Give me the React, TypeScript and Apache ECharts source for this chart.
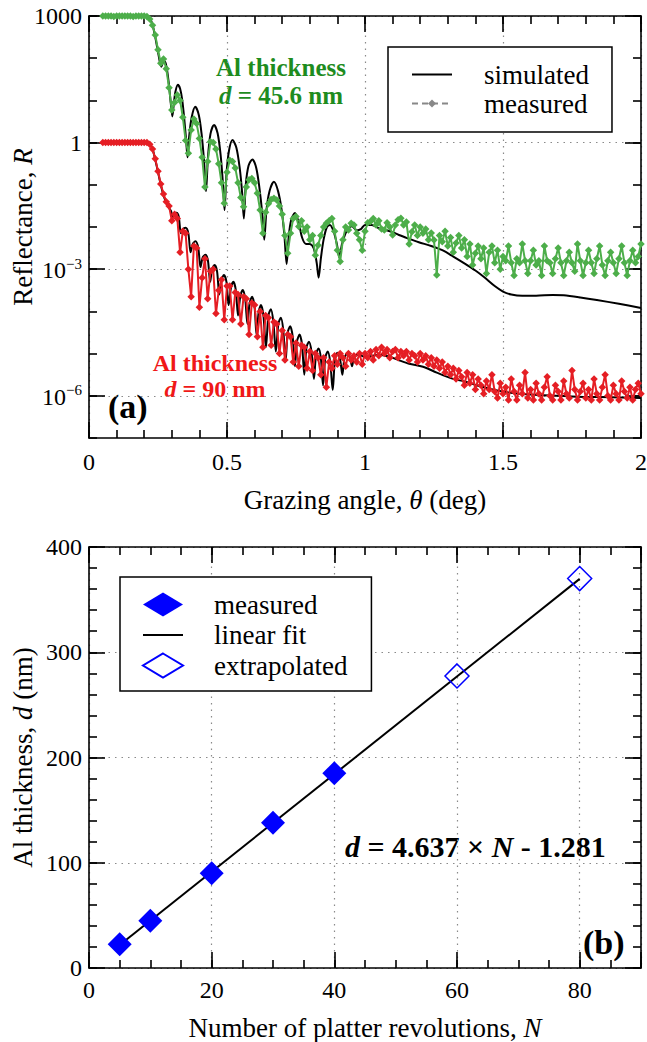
import React, { useEffect, useRef } from "react";
import * as echarts from "echarts";

const FONT = '"Liberation Serif", "Times New Roman", serif';

// ---------------- Panel (a): X-ray reflectivity ----------------
// measured scans are sampled on a uniform grazing-angle grid (deg)
const THETA_START = 0.05;
const THETA_STEP = 0.01;

// log10(R) of the measured 45.6 nm film (plotted x1000), rows of 10 samples
const greenMeasuredLog = [
  3, 3, 3, 3, 2.99, 3, 3, 3, 3, 3, // 0.05
  3, 2.99, 3, 3, 3, 3, 2.99, 2.93, 2.78, 2.55, // 0.15
  2.2, 1.88, 1.98, 1.75, 1.3, 0.77, 0.95, 1.13, 1.0, 0.6, // 0.25
  0.05, -0.25, 0.3, 0.56, 0.45, 0.1, -0.35, -1.05, -0.45, 0.02, // 0.35
  0.0, -0.15, -0.5, -0.95, -1.44, -0.7, -0.42, -0.45, -0.6, -0.95, // 0.45
  -1.3, -1.52, -1.05, -0.88, -0.85, -0.95, -1.2, -1.6, -2.15, -1.65, // 0.55
  -1.45, -1.35, -1.32, -1.36, -1.5, -1.7, -2.2, -2.62, -2.15, -1.8, // 0.65
  -1.75, -1.99, -1.85, -2.1, -2.0, -2.3, -2.2, -2.67, -2.43, -2.2, // 0.75
  -2.0, -1.91, -1.85, -1.8, -2.1, -2.55, -2.82, -2.3, -2.0, -2.07, // 0.85
  -1.91, -1.95, -2.15, -2.3, -2.55, -2.1, -1.9, -1.87, -1.8, -1.95, // 0.95
  -1.85, -2.05, -2.07, -1.9, -2.0, -2.19, -1.95, -1.83, -1.79, -1.95, // 1.05
  -1.88, -2.4, -2.11, -1.95, -2.2, -2.0, -2.15, -2.05, -2.3, -2.14, // 1.15
  -2.31, -3.14, -2.2, -2.35, -2.1, -2.45, -2.25, -2.6, -2.38, -2.2, // 1.25
  -2.5, -2.3, -2.7, -2.4, -2.9, -2.62, -2.45, -2.75, -2.5, -3.1, // 1.35
  -2.6, -2.45, -2.85, -2.55, -3.0, -2.7, -2.8, -2.45, -2.85, -3.15, // 1.45
  -2.75, -2.85, -2.4, -2.8, -3.1, -2.8, -2.55, -2.9, -2.8, -3.15, // 1.55
  -2.45, -2.8, -2.85, -3.1, -2.75, -2.5, -2.85, -3.15, -2.8, -2.6, // 1.65
  -2.85, -3.05, -2.4, -2.8, -3.15, -2.85, -2.55, -2.85, -3.1, -2.75, // 1.75
  -2.45, -2.9, -3.15, -2.8, -2.6, -2.85, -3.1, -2.75, -2.45, -2.85, // 1.85
  -3.15, -2.8, -2.55, -2.85, -2.7, -2.4, // 1.95
];

// log10(R) of the measured 90 nm film
const redMeasuredLog = [
  0, 0, 0, 0, 0, 0, 0, 0, 0, 0, // 0.05
  0, 0, 0, 0, 0, 0, 0, -0.04, -0.15, -0.38, // 0.15
  -0.68, -0.98, -1.22, -1.4, -1.5, -1.85, -1.7, -1.8, -2.6, -2.1, // 0.25
  -2.15, -3.0, -3.65, -2.45, -2.5, -3.9, -3.2, -2.75, -3.7, -3.05, // 0.35
  -3.0, -4.05, -3.5, -3.25, -4.2, -3.4, -3.4, -4.2, -3.55, -3.6, // 0.45
  -4.3, -3.65, -3.7, -4.55, -3.8, -3.85, -4.6, -4.0, -4.85, -4.1, // 0.55
  -4.15, -4.8, -4.25, -4.3, -5.0, -4.45, -5.15, -4.55, -4.6, -5.2, // 0.65
  -4.75, -5.3, -4.8, -4.85, -5.35, -4.95, -5.4, -5.0, -5.1, -5.5, // 0.75
  -5.1, -5.8, -5.2, -5.35, -5.05, -5.25, -5.0, -5.1, -5.3, -5.0, // 0.85
  -5.15, -5.05, -5.2, -5.0, -5.25, -5.0, -5.1, -4.95, -5.15, -4.9, // 0.95
  -5.05, -4.85, -5.0, -4.9, -5.1, -4.95, -4.9, -5.1, -4.95, -5.05, // 1.05
  -4.95, -5.15, -5.0, -5.05, -5.2, -5.0, -5.15, -5.05, -5.25, -5.1, // 1.15
  -5.3, -5.15, -5.35, -5.2, -5.45, -5.3, -5.5, -5.35, -5.6, -5.4, // 1.25
  -5.55, -5.75, -5.45, -5.7, -5.5, -5.85, -5.6, -5.75, -5.95, -5.65, // 1.35
  -5.85, -5.5, -5.9, -6.05, -5.7, -5.95, -5.8, -6.1, -5.6, -5.9, // 1.45
  -6.1, -5.75, -5.95, -5.45, -6.05, -5.85, -6.1, -5.7, -5.95, -6.1, // 1.55
  -5.8, -5.55, -6.0, -6.1, -5.75, -5.9, -6.1, -5.65, -5.95, -6.05, // 1.65
  -5.4, -5.85, -6.1, -5.9, -5.7, -6.05, -5.85, -6.1, -5.6, -5.95, // 1.75
  -6.1, -5.8, -5.5, -6.0, -6.1, -5.75, -5.95, -6.1, -5.65, -5.9, // 1.85
  -6.05, -5.8, -6.1, -5.85, -5.7, -5.95, // 1.95
];

// simulated curves: [theta (deg), log10(R)]
const greenSimulated = [
  [0.05, 3], [0.21, 3], [0.22, 2.96], [0.23, 2.8], [0.24, 2.5], [0.25, 2.15], [0.257, 1.9], [0.262, 1.8],
  [0.268, 1.9], [0.275, 1.92], [0.282, 1.75], [0.29, 1.35], [0.296, 0.95], [0.302, 0.62], [0.307, 0.9],
  [0.313, 1.2], [0.322, 1.37], [0.33, 1.28], [0.338, 1.0], [0.346, 0.5], [0.352, 0.05], [0.357, -0.35],
  [0.363, 0.15], [0.372, 0.6], [0.385, 0.85], [0.398, 0.65], [0.408, 0.2], [0.417, -0.45], [0.424, -1.15],
  [0.431, -0.35], [0.44, 0.2], [0.453, 0.42], [0.466, 0.22], [0.477, -0.3], [0.485, -0.95], [0.491, -1.6],
  [0.498, -0.75], [0.507, -0.2], [0.52, 0.06], [0.534, -0.12], [0.546, -0.6], [0.555, -1.2], [0.561, -1.8],
  [0.568, -1.0], [0.578, -0.55], [0.592, -0.4], [0.606, -0.6], [0.618, -1.1], [0.628, -1.7], [0.635, -2.3],
  [0.643, -1.6], [0.654, -1.15], [0.67, -0.93], [0.685, -1.15], [0.698, -1.6], [0.708, -2.2], [0.716, -2.88],
  [0.724, -2.2], [0.733, -1.82], [0.746, -1.67], [0.76, -1.9], [0.772, -2.25], [0.786, -2.4], [0.8, -2.4],
  [0.814, -2.5], [0.825, -2.85], [0.832, -3.2], [0.84, -2.75], [0.85, -2.3], [0.862, -2.0], [0.873, -1.95],
  [0.886, -2.1], [0.898, -2.4], [0.907, -2.72], [0.917, -2.4], [0.933, -2.1], [0.953, -1.98], [0.97, -2.08],
  [0.985, -2.05], [1.0, -1.95], [1.025, -1.95], [1.05, -2.03], [1.075, -2.07], [1.1, -2.12], [1.123, -2.19],
  [1.16, -2.28], [1.195, -2.36], [1.24, -2.45], [1.28, -2.55], [1.32, -2.7], [1.36, -2.86], [1.4, -3.03],
  [1.43, -3.18], [1.47, -3.4], [1.5, -3.53], [1.53, -3.6], [1.57, -3.63], [1.62, -3.63], [1.68, -3.61],
  [1.72, -3.62], [1.78, -3.67], [1.84, -3.73], [1.92, -3.82], [2.0, -3.92],
];

const redSimulated = [
  [0.05, 0], [0.21, 0], [0.22, -0.03], [0.23, -0.15], [0.24, -0.4], [0.25, -0.7], [0.26, -1.0], [0.27, -1.25],
  [0.28, -1.42], [0.29, -1.55], [0.297, -1.62], [0.303, -1.75], [0.31, -1.68], [0.317, -1.66], [0.325, -1.75],
  [0.333, -2.15], [0.34, -2.05], [0.35, -2.02], [0.36, -2.15], [0.368, -2.6], [0.376, -2.4], [0.386, -2.34],
  [0.396, -2.5], [0.404, -2.95], [0.412, -2.72], [0.422, -2.66], [0.431, -2.8], [0.439, -3.3], [0.446, -3.0],
  [0.455, -2.9], [0.464, -3.05], [0.472, -3.6], [0.48, -3.25], [0.489, -3.14], [0.498, -3.3], [0.506, -3.85],
  [0.514, -3.45], [0.523, -3.3], [0.532, -3.5], [0.54, -4.1], [0.548, -3.65], [0.557, -3.49], [0.566, -3.7],
  [0.574, -4.3], [0.582, -3.8], [0.591, -3.65], [0.6, -3.9], [0.607, -4.55], [0.615, -4.0], [0.623, -3.85],
  [0.632, -4.1], [0.641, -4.85], [0.65, -4.1], [0.659, -3.95], [0.668, -4.25], [0.677, -4.95], [0.686, -4.3],
  [0.695, -4.15], [0.704, -4.45], [0.712, -5.2], [0.72, -4.5], [0.729, -4.35], [0.738, -4.6], [0.746, -5.3],
  [0.754, -4.7], [0.763, -4.55], [0.772, -4.8], [0.78, -5.5], [0.788, -4.85], [0.797, -4.72], [0.806, -4.95],
  [0.815, -5.6], [0.823, -5.0], [0.832, -4.88], [0.84, -5.1], [0.848, -5.75], [0.856, -5.1], [0.865, -4.95],
  [0.874, -5.2], [0.883, -5.86], [0.891, -5.15], [0.9, -4.98], [0.91, -5.15], [0.918, -5.5], [0.926, -5.1],
  [0.937, -4.98], [0.946, -5.1], [0.953, -5.3], [0.96, -5.1], [0.975, -5.02], [1.0, -5.08], [1.05, -5.03],
  [1.087, -5.07], [1.12, -5.15], [1.16, -5.24], [1.21, -5.31], [1.26, -5.45], [1.32, -5.6], [1.36, -5.66],
  [1.41, -5.76], [1.47, -5.86], [1.52, -5.92], [1.6, -5.97], [1.7, -6.0], [1.77, -6.02], [1.85, -6.03],
  [1.93, -6.04], [2.0, -6.05],
];

const yMajorLog = [-6, -3, 0, 3];

// ---------------- Panel (b): thickness vs revolutions ----------------
const measuredN = [5, 10, 20, 30, 40];
const measuredD = [22.5, 45, 90, 138, 185];
const extrapolatedN = [60, 80];
const extrapolatedD = [277.5, 370];
const fitN = [5, 80];
const fitD = [21.9, 369.7];

const GREEN = "#4dae4a";
const RED = "#e51e24";
const BLUE = "#0000ff";

const LEGEND_LABELS: Record<string, string> = {
  simulated: "simulated",
  measured: "measured",
  measuredB: "measured",
  "linear fit": "linear fit",
  extrapolated: "extrapolated",
};

const dotted = { color: "#8a8a8a", width: 1.2, type: [1.5, 5] };
const blackLine = { color: "#000", width: 1.6 };

function axisNameStyle() {
  return {
    fontFamily: FONT,
    fontSize: 27,
    color: "#000",
    rich: {
      i: { fontFamily: FONT, fontSize: 27, fontStyle: "italic", color: "#000" },
    },
  };
}

function makeAxis(o: any) {
  const base: any = {
    type: "value",
    axisLine: { show: false, onZero: false, lineStyle: blackLine },
    axisTick: { show: true, inside: true, length: 8, lineStyle: blackLine },
    axisLabel: { show: false },
    splitLine: { show: false },
    nameMoveOverlap: false,
  };
  return {
    ...base,
    ...o,
    axisLine: { ...base.axisLine, ...(o.axisLine || {}) },
    axisTick: { ...base.axisTick, ...(o.axisTick || {}) },
  };
}

function logLabel(v: number) {
  if (v === 3) return "1000";
  if (v === 0) return "1";
  if (v === -3) return "{b|10}{s|\u22123}";
  if (v === -6) return "{b|10}{s|\u22126}";
  return "";
}

const GRID_W = 552;

function buildOption() {
  const greenMeasured = greenMeasuredLog.map((v, i) => [+(THETA_START + i * THETA_STEP).toFixed(3), v]);
  const redMeasured = redMeasuredLog.map((v, i) => [+(THETA_START + i * THETA_STEP).toFixed(3), v]);

  const labelStyle = { fontFamily: FONT, fontSize: 24, color: "#000" };

  const xAxis = [
    // grid 0 (panel a)
    makeAxis({
      gridIndex: 0, position: "bottom", min: 0, max: 2, interval: 0.5,
      axisLine: { show: true }, axisTick: { length: 16 },
      axisLabel: { show: true, margin: 12, ...labelStyle, formatter: (v: number) => String(v) },
      splitLine: { show: true, lineStyle: dotted },
      name: "Grazing angle, {i|\u03b8} (deg)", nameLocation: "middle", nameGap: 48,
      nameTextStyle: axisNameStyle(),
    }),
    makeAxis({ gridIndex: 0, position: "bottom", min: 0, max: 2, interval: 0.1 }),
    makeAxis({ gridIndex: 0, position: "top", min: 0, max: 2, interval: 0.5, axisLine: { show: true }, axisTick: { length: 16 } }),
    makeAxis({ gridIndex: 0, position: "top", min: 0, max: 2, interval: 0.1 }),
    // grid 1 (panel b)
    makeAxis({
      gridIndex: 1, position: "bottom", min: 0, max: 90, interval: 20,
      axisLine: { show: true }, axisTick: { length: 16 },
      axisLabel: { show: true, margin: 10, ...labelStyle, formatter: (v: number) => (v > 85 ? "" : String(v)) },
      splitLine: { show: true, lineStyle: dotted },
      name: "Number of platter revolutions, {i|N}", nameLocation: "middle", nameGap: 46,
      nameTextStyle: axisNameStyle(),
    }),
    makeAxis({ gridIndex: 1, position: "bottom", min: 0, max: 90, interval: 5 }),
    makeAxis({ gridIndex: 1, position: "top", min: 0, max: 90, interval: 20, axisLine: { show: true }, axisTick: { length: 16 } }),
    makeAxis({ gridIndex: 1, position: "top", min: 0, max: 90, interval: 5 }),
  ];

  const yAxis = [
    // grid 0: data axis (one tick per decade) carrying labels
    makeAxis({
      gridIndex: 0, position: "left", min: -7, max: 3, interval: 1,
      axisLine: { show: true },
      axisLabel: {
        show: true, margin: 7, ...labelStyle, formatter: logLabel,
        rich: {
          b: { fontFamily: FONT, fontSize: 24, color: "#000", lineHeight: 26, verticalAlign: "bottom" },
          s: { fontFamily: FONT, fontSize: 15, color: "#000", lineHeight: 16, verticalAlign: "top" },
        },
      },
      name: "Reflectance, {i|R}", nameLocation: "middle", nameGap: 53,
      nameTextStyle: axisNameStyle(),
    }),
    // grid 0: major ticks + grid lines
    makeAxis({
      gridIndex: 0, position: "left", min: -7, max: 3,
      axisTick: { length: 16, customValues: yMajorLog },
      splitLine: { show: true, lineStyle: dotted },
    }),
    makeAxis({ gridIndex: 0, position: "right", min: -7, max: 3, interval: 1, axisLine: { show: true } }),
    makeAxis({ gridIndex: 0, position: "right", min: -7, max: 3, axisTick: { length: 16, customValues: yMajorLog } }),
    // grid 1
    makeAxis({
      gridIndex: 1, position: "left", min: 0, max: 400, interval: 100,
      axisLine: { show: true }, axisTick: { length: 16 },
      axisLabel: { show: true, margin: 7, ...labelStyle },
      splitLine: { show: true, lineStyle: dotted },
      name: "Al thickness, {i|d} (nm)", nameLocation: "middle", nameGap: 53,
      nameTextStyle: axisNameStyle(),
    }),
    makeAxis({ gridIndex: 1, position: "left", min: 0, max: 400, interval: 20 }),
    makeAxis({ gridIndex: 1, position: "right", min: 0, max: 400, interval: 100, axisLine: { show: true }, axisTick: { length: 16 } }),
    makeAxis({ gridIndex: 1, position: "right", min: 0, max: 400, interval: 20 }),
  ];

  const series: any[] = [
    {
      name: "sim-45.6", type: "line", xAxisIndex: 0, yAxisIndex: 0, data: greenSimulated,
      symbol: "none", smooth: 0.3, lineStyle: { color: "#000", width: 2 }, silent: true, z: 2,
    },
    {
      name: "sim-90", type: "line", xAxisIndex: 0, yAxisIndex: 0, data: redSimulated,
      symbol: "none", smooth: 0.3, lineStyle: { color: "#000", width: 2 }, silent: true, z: 2,
    },
    {
      name: "meas-45.6", type: "line", xAxisIndex: 0, yAxisIndex: 0, data: greenMeasured,
      symbol: "diamond", symbolSize: 7.5, showSymbol: true, itemStyle: { color: GREEN },
      lineStyle: { color: GREEN, width: 2 }, silent: true, z: 3,
    },
    {
      name: "meas-90", type: "line", xAxisIndex: 0, yAxisIndex: 0, data: redMeasured,
      symbol: "diamond", symbolSize: 7.5, showSymbol: true, itemStyle: { color: RED },
      lineStyle: { color: RED, width: 2 }, silent: true, z: 3,
    },
    // legend entries for panel (a)
    {
      name: "simulated", type: "line", xAxisIndex: 0, yAxisIndex: 0, data: [],
      symbol: "none", lineStyle: { color: "#000", width: 2 }, itemStyle: { color: "#000" },
    },
    {
      name: "measured", type: "line", xAxisIndex: 0, yAxisIndex: 0, data: [],
      symbol: "diamond", symbolSize: 6, itemStyle: { color: "#888" },
      lineStyle: { color: "#888", width: 2, type: [6, 4] },
    },
    // panel (b)
    {
      name: "linear fit", type: "line", xAxisIndex: 4, yAxisIndex: 4,
      data: fitN.map((n, i) => [n, fitD[i]]), symbol: "none",
      lineStyle: { color: "#000", width: 2 }, itemStyle: { color: "#000" }, z: 2,
    },
    {
      name: "measuredB", type: "scatter", xAxisIndex: 4, yAxisIndex: 4,
      data: measuredN.map((n, i) => [n, measuredD[i]]), symbol: "diamond", symbolSize: 24,
      itemStyle: { color: BLUE, opacity: 1 }, z: 3,
    },
    {
      name: "extrapolated", type: "scatter", xAxisIndex: 4, yAxisIndex: 4,
      data: extrapolatedN.map((n, i) => [n, extrapolatedD[i]]), symbol: "diamond", symbolSize: 24,
      itemStyle: { color: "rgba(255,255,255,0)", borderColor: BLUE, borderWidth: 1.5, opacity: 1 }, z: 3,
    },
  ];

  const legendText = { fontFamily: FONT, fontSize: 27, color: "#000" };

  return {
    animation: false,
    backgroundColor: "#fff",
    textStyle: { fontFamily: FONT },
    grid: [
      { left: 89, top: 16, width: GRID_W, height: 422, containLabel: false, outerBoundsMode: "none" },
      { left: 89, top: 547, width: GRID_W, height: 421, containLabel: false, outerBoundsMode: "none" },
    ],
    xAxis,
    yAxis,
    legend: [
      {
        orient: "vertical", left: 388, top: 47, itemWidth: 40, itemHeight: 10, itemGap: 2,
        padding: [14, 23, 15, 23], borderColor: "#000", borderWidth: 1.5, backgroundColor: "#fff",
        selectedMode: false,
        formatter: (n: string) => LEGEND_LABELS[n] || n,
        textStyle: { ...legendText, padding: [0, 0, 0, 27] },
        data: [
          { name: "simulated", itemStyle: { opacity: 0 } },
          { name: "measured", lineStyle: { color: "#888", width: 2, type: [6, 4] } },
        ],
      },
      {
        orient: "vertical", left: 120, top: 577, itemWidth: 40, itemHeight: 24, itemGap: 3.5,
        padding: [14, 24, 12, 22], borderColor: "#000", borderWidth: 1.5, backgroundColor: "#fff",
        selectedMode: false,
        formatter: (n: string) => LEGEND_LABELS[n] || n,
        textStyle: { ...legendText, padding: [0, 0, 0, 26] },
        data: [
          { name: "measuredB" },
          { name: "linear fit", itemStyle: { opacity: 0 } },
          { name: "extrapolated" },
        ],
      },
    ],
    graphic: [
      {
        type: "text", x: 281, y: 81, silent: true,
        style: {
          text: "{a|Al thickness}\n{ai|d}{a| = 45.6 nm}", align: "center", verticalAlign: "middle",
          rich: {
            a: { fontFamily: FONT, fontSize: 25, fontWeight: "bold", fill: "#1e8c1e", lineHeight: 28 },
            ai: { fontFamily: FONT, fontSize: 25, fontWeight: "bold", fontStyle: "italic", fill: "#1e8c1e", lineHeight: 28 },
          },
        },
      },
      {
        type: "text", x: 215, y: 376, silent: true,
        style: {
          text: "{a|Al thickness}\n{ai|d}{a| = 90 nm}", align: "center", verticalAlign: "middle",
          rich: {
            a: { fontFamily: FONT, fontSize: 24, fontWeight: "bold", fill: "#f01818", lineHeight: 26 },
            ai: { fontFamily: FONT, fontSize: 24, fontWeight: "bold", fontStyle: "italic", fill: "#f01818", lineHeight: 26 },
          },
        },
      },
      {
        type: "text", x: 108, y: 406, silent: true,
        style: { text: "(a)", fontFamily: FONT, fontSize: 34, fontWeight: "bold", fill: "#000", align: "left", verticalAlign: "middle" },
      },
      {
        type: "text", x: 583, y: 942, silent: true,
        style: { text: "(b)", fontFamily: FONT, fontSize: 34, fontWeight: "bold", fill: "#000", align: "left", verticalAlign: "middle" },
      },
      {
        type: "text", x: 345, y: 846, silent: true,
        style: {
          text: "{bi|d}{b| = 4.637 \u00d7 }{bi|N}{b| - 1.281}", align: "left", verticalAlign: "middle",
          rich: {
            b: { fontFamily: FONT, fontSize: 30, fontWeight: "bold", fill: "#000" },
            bi: { fontFamily: FONT, fontSize: 30, fontWeight: "bold", fontStyle: "italic", fill: "#000" },
          },
        },
      },
    ],
    series,
  };
}

export default function App() {
  const ref = useRef<HTMLDivElement>(null);
  useEffect(() => {
    if (!ref.current) return;
    const chart = echarts.init(ref.current, undefined, { renderer: "svg" });
    chart.setOption(buildOption() as any);
    return () => chart.dispose();
  }, []);
  return (
    <div
      ref={ref}
      style={{ position: "absolute", left: 0, top: 0, width: 647, height: 1042, background: "#fff" }}
    />
  );
}
